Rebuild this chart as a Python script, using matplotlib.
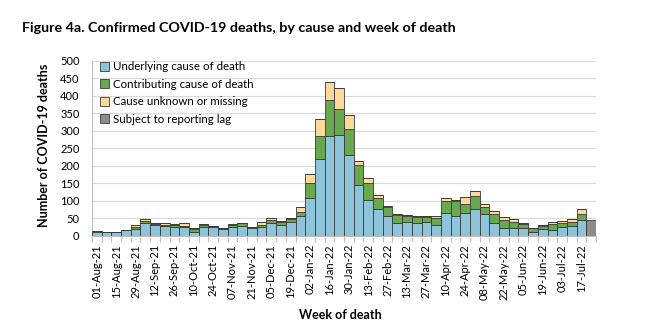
import matplotlib
matplotlib.use("Agg")
import matplotlib.pyplot as plt
import numpy as np

plt.rcParams["font.family"] = ["Lato", "DejaVu Sans"]

weeks = [
    "01-Aug-21", "08-Aug-21", "15-Aug-21", "22-Aug-21", "29-Aug-21", "05-Sep-21",
    "12-Sep-21", "19-Sep-21", "26-Sep-21", "03-Oct-21", "10-Oct-21", "17-Oct-21",
    "24-Oct-21", "31-Oct-21", "07-Nov-21", "14-Nov-21", "21-Nov-21", "28-Nov-21",
    "05-Dec-21", "12-Dec-21", "19-Dec-21", "26-Dec-21", "02-Jan-22", "09-Jan-22",
    "16-Jan-22", "23-Jan-22", "30-Jan-22", "06-Feb-22", "13-Feb-22", "20-Feb-22",
    "27-Feb-22", "06-Mar-22", "13-Mar-22", "20-Mar-22", "27-Mar-22", "03-Apr-22",
    "10-Apr-22", "17-Apr-22", "24-Apr-22", "01-May-22", "08-May-22", "15-May-22",
    "22-May-22", "29-May-22", "05-Jun-22", "12-Jun-22", "19-Jun-22", "26-Jun-22",
    "03-Jul-22", "10-Jul-22", "17-Jul-22", "24-Jul-22",
]

underlying = [
    10, 10, 10, 15, 20, 37, 30, 29, 26, 26, 12, 25, 24, 20, 25, 27, 23, 25,
    35, 31, 40, 56, 107, 219, 284, 287, 230, 145, 103, 77, 55, 37, 40, 36,
    38, 31, 66, 57, 66, 76, 61, 36, 23, 23, 23, 10, 18, 17, 25, 27, 45, 0,
]
contributing = [
    2, 1, 1, 1, 6, 5, 4, 3, 5, 3, 8, 5, 3, 2, 5, 8, 2, 6,
    11, 9, 8, 12, 45, 67, 105, 75, 75, 56, 49, 30, 26, 22, 17, 17,
    16, 20, 34, 41, 25, 39, 20, 25, 22, 15, 10, 12, 10, 17, 12, 13, 17, 0,
]
unknown = [
    1, 0, 0, 0, 4, 5, 3, 3, 2, 6, 1, 3, 1, 1, 3, 2, 0, 7,
    4, 3, 4, 14, 26, 48, 50, 62, 41, 13, 12, 10, 4, 2, 2, 2,
    3, 5, 7, 4, 19, 13, 10, 10, 9, 9, 4, 1, 4, 6, 6, 7, 13, 0,
]
reporting_lag = [0] * 51 + [46]

series = [
    ("Underlying cause of death", underlying, "#8EC4D9"),
    ("Contributing cause of death", contributing, "#6AA84F"),
    ("Cause unknown or missing", unknown, "#FFD99A"),
    ("Subject to reporting lag", reporting_lag, "#8C8C8C"),
]


def main() -> None:
    fig = plt.figure(figsize=(6.6, 3.34), dpi=100)
    ax = fig.add_axes([0.1394, 0.2943, 0.7636, 0.5231])

    x = np.arange(len(weeks))
    bottom = np.zeros(len(weeks))
    for name, values, color in series:
        vals = np.array(values, dtype=float)
        ax.bar(x, vals, width=1.0, bottom=bottom, color=color,
               edgecolor="#3a3a3a", linewidth=0.6, label=name, zorder=3)
        bottom += vals

    ax.set_xlim(-0.5, len(weeks) - 0.5)
    ax.set_ylim(0, 500)
    ax.set_yticks(np.arange(0, 501, 50))
    ax.yaxis.grid(True, color="#D9D9D9", linewidth=0.8, zorder=0)
    ax.tick_params(axis="y", length=0, labelsize=8, pad=9, colors="#000000")

    ax.set_xticks(x[::2])
    ax.set_xticklabels(weeks[::2], rotation=90, fontsize=8)
    ax.tick_params(axis="x", which="major", length=0, pad=6)
    ax.set_xticks(np.arange(-0.5, len(weeks), 1.0), minor=True)
    ax.tick_params(axis="x", which="minor", length=4, color="#BFBFBF", width=0.8)

    for side in ["top", "right"]:
        ax.spines[side].set_visible(False)
    ax.spines["left"].set_color("#BFBFBF")
    ax.spines["bottom"].set_color("#BFBFBF")

    ax.legend(loc="upper left", bbox_to_anchor=(0.0, 1.045), frameon=False,
              fontsize=8.3, handlelength=0.8, handleheight=0.8,
              handletextpad=0.3, labelspacing=0.56, borderaxespad=0.3)

    fig.text(0.033, 0.916, "Figure 4a. Confirmed COVID-19 deaths, by cause and week of death",
             fontsize=10.3, fontweight="bold", va="center", ha="left")
    fig.text(0.067, 0.565, "Number of COVID-19 deaths", rotation=90,
             fontsize=9, fontweight="bold", va="center", ha="center")
    fig.text(0.515, 0.058, "Week of death", fontsize=9, fontweight="bold",
             va="center", ha="center")

    fig.savefig("out.png", dpi=100)


if __name__ == "__main__":
    main()
